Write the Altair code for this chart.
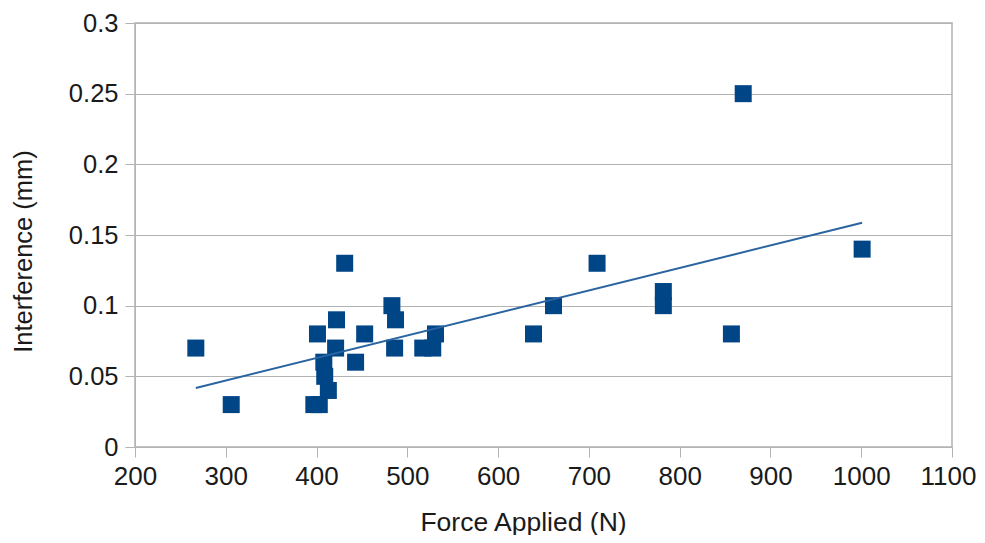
import altair as alt
import pandas as pd

force = [267, 306, 397, 403, 401, 408, 409, 413, 421, 422, 431, 443, 453,
         483, 486, 487, 517, 528, 531, 639, 661, 709, 782, 782, 857, 870, 1001]
interference = [0.07, 0.03, 0.03, 0.03, 0.08, 0.06, 0.05, 0.04, 0.07, 0.09, 0.13, 0.06, 0.08,
                0.10, 0.07, 0.09, 0.07, 0.07, 0.08, 0.08, 0.10, 0.13, 0.11, 0.10, 0.08, 0.25, 0.14]

x_ticks = [200, 300, 400, 500, 600, 700, 800, 900, 1000, 1100]
y_ticks = [0, 0.05, 0.1, 0.15, 0.2, 0.25, 0.3]

df = pd.DataFrame({"force": force, "interference": interference})

FONT = "Liberation Sans"
GRID = "#b3b3b3"
TXT = "#1a1a1a"

x_enc = alt.X("force:Q", scale=alt.Scale(domain=[200, 1100], nice=False, zero=False),
              axis=alt.Axis(title="Force Applied (N)", values=x_ticks, format="d", grid=False,
                            labelFlush=False, labelOverlap=False,
                            labelOffset={"condition": {"test": "datum.value >= 1100", "value": -4},
                                         "value": 0},
                            tickSize=10, tickColor=GRID, domainColor=GRID,
                            labelPadding=6, labelFontSize=26,
                            titleFontSize=26.5, titleFontWeight="normal",
                            titleX=388, titleY=83, titleBaseline="alphabetic", titleAlign="center",
                            labelColor=TXT, titleColor=TXT, labelFont=FONT, titleFont=FONT))
y_enc = alt.Y("interference:Q", scale=alt.Scale(domain=[0, 0.3], nice=False),
              axis=alt.Axis(title="Interference (mm)", values=y_ticks, format=".2~f",
                            grid=True, gridColor=GRID, tickSize=10, tickColor=GRID,
                            domainColor=GRID, labelPadding=7, labelOverlap=False,
                            labelFontSize=25.5, titleFontSize=25.5, titleFontWeight="normal",
                            titleX=-112, titleY=228, titleAngle=-90,
                            titleBaseline="middle", titleAlign="center",
                            labelColor=TXT, titleColor=TXT, labelFont=FONT, titleFont=FONT))

base = alt.Chart(df)

points = base.mark_square(size=289, color="#004586", opacity=1).encode(x=x_enc, y=y_enc)

trend = base.transform_regression("force", "interference").mark_line(
    color="#2a64a0", strokeWidth=2).encode(x="force:Q", y="interference:Q")

chart = alt.layer(points, trend).properties(
    width=817, height=424,
    padding={"left": 127, "top": 15, "right": 25, "bottom": 88},
    autosize=alt.AutoSizeParams(type="none"),
).configure_view(stroke=GRID, strokeWidth=1.5)

chart.save("out.html", embed_options={"renderer": "svg", "actions": False})
